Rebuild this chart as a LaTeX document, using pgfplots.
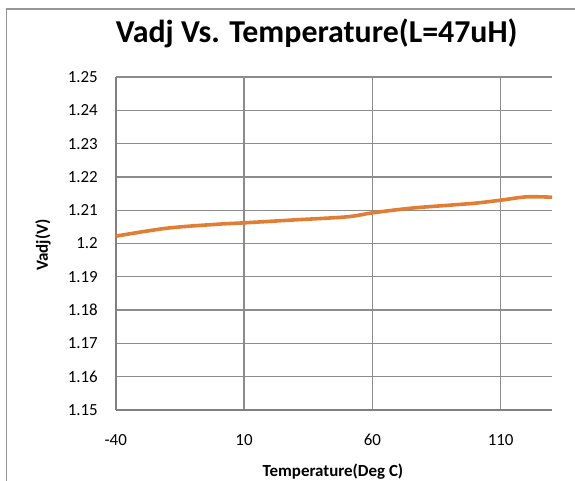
\documentclass[border=0pt]{standalone}
\usepackage{fontspec}
\setmainfont{Carlito}
\usepackage{pgfplots}
\pgfplotsset{compat=1.18}
\definecolor{lineor}{RGB}{226,126,52}
\definecolor{gridc}{RGB}{140,140,140}
\definecolor{axisc}{RGB}{128,128,128}
\begin{document}
\begin{tikzpicture}[x=1bp,y=1bp]
\path[use as bounding box] (0,0) rectangle (575,481);
\draw[color={rgb,255:red,150;green,150;blue,150}, line width=1.5bp] (6.5,0) -- (6.5,472) -- (575,472);
\begin{axis}[
  at={(115.7bp,71bp)}, anchor=south west,
  scale only axis, width=436.3bp, height=333bp,
  xmin=-40, xmax=130, ymin=1.15, ymax=1.25,
  axis x line=bottom, axis y line=left,
  axis line style={axisc, line width=1.6bp, -},
  xtick={-40,10,60,110},
  xticklabels={-40,10,60,110},
  ytick={1.15,1.16,1.17,1.18,1.19,1.2,1.21,1.22,1.23,1.24,1.25},
  yticklabels={1.15,1.16,1.17,1.18,1.19,1.2,1.21,1.22,1.23,1.24,1.25},
  major tick length=0pt,
  grid=major,
  major grid style={gridc, line width=1.3bp},
  xticklabel style={font=\fontsize{17}{20}\selectfont, anchor=center, inner sep=0pt, yshift=-30bp},
  yticklabel style={font=\fontsize{17}{20}\selectfont, anchor=east, inner sep=0pt, xshift=-17.7bp},
  clip=false,
]
\addplot[lineor, line width=3.6bp, smooth, tension=0.5] coordinates {
(-40,1.2022) (-20,1.2046) (0,1.2058) (10,1.2062) (30,1.2071) (50,1.2080)
(60,1.2092) (75,1.2106) (90,1.2115) (100,1.2121) (110,1.2130) (120,1.2140) (130,1.2139)
};
\end{axis}
\node[font=\bfseries\fontsize{32}{36}\selectfont, inner sep=0pt] at (316.7,448) {Vadj Vs. Temperature(L=47uH)};
\node[font=\bfseries\fontsize{17}{20}\selectfont, inner sep=0pt] at (333,9.3) {Temperature(Deg C)};
\node[font=\bfseries\fontsize{17}{20}\selectfont, inner sep=0pt, rotate=90] at (43,236) {Vadj(V)};
\end{tikzpicture}
\end{document}
